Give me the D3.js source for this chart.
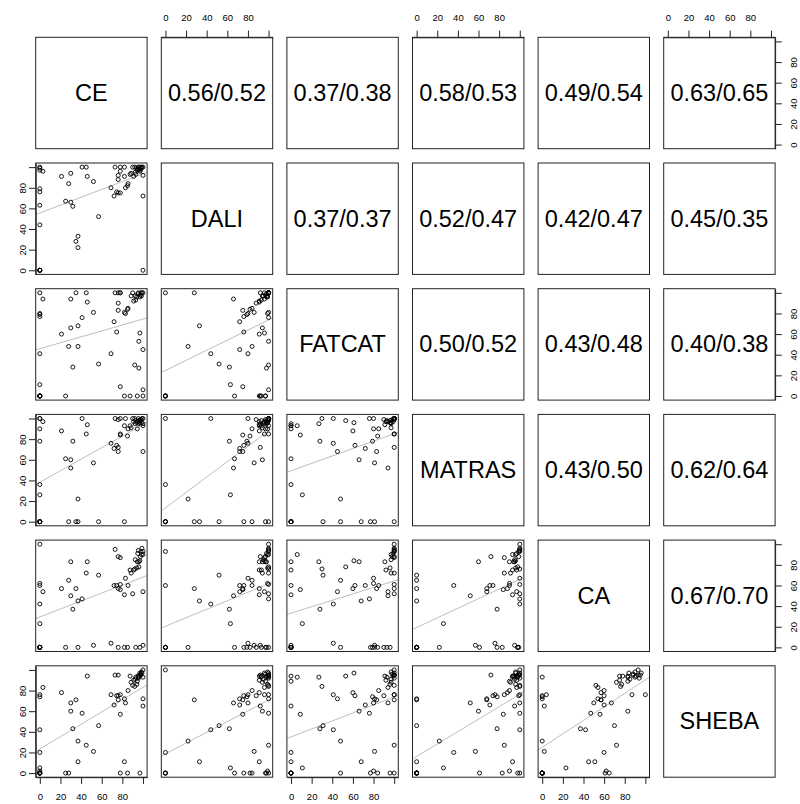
<!DOCTYPE html>
<html>
<head>
  <meta charset="utf8" />
  <style>
    body {
      margin: 0;
      background: #fff;
    }
    text {
      font-family: "Liberation Sans", Arial, Helvetica, sans-serif;
      fill: #000;
    }
    .box {
      fill: none;
      stroke: #222;
      stroke-width: 1;
    }
    .pt {
      fill: none;
      stroke: #000;
      stroke-width: 0.9;
    }
    .fit {
      stroke: #bebebe;
      stroke-width: 1;
    }
    .axis path, .axis line {
      stroke: #222;
    }
    .axis text {
      font-size: 9.5px;
    }
    .big {
      font-size: 23.5px;
      text-anchor: middle;
      dominant-baseline: central;
    }
  </style>
</head>
<body>
  <script src="https://d3js.org/d3.v7.min.js"></script>
  <script>
    // variables of the pairs plot, one value per structure pair
    var names = ["CE", "DALI", "FATCAT", "MATRAS", "CA", "SHEBA"];

    var ce     = [0, 0, 0, 0, 0, 0, 0, 0, 0, 0, 0, 3,
                  21, 25, 28, 30, 30, 32, 35, 37, 37, 41, 45, 46, 52, 57,
                  69, 72, 73, 74.5, 76, 76, 76, 78, 78, 78, 82, 82, 83, 85, 85.5, 87.5, 88.5,
                  90, 91, 92, 92.5, 93, 94, 94.5, 95, 95.5, 96, 96, 97, 97, 97.5, 98, 98.5, 99, 100, 100, 100, 100];
    var dali   = [100, 99, 79, 76, 63, 44, 0, 0, 0, 0, 97, 96,
                  91, 67, 84, 66, 94, 62, 28, 33, 22, 100, 100, 91, 86, 52,
                  80, 72, 100, 76, 75, 92, 88, 75, 100, 96, 100, 91, 80, 82, 84, 93, 94,
                  100, 91, 100, 95, 93, 99, 97, 98, 100, 98, 100, 96, 98, 97, 100, 99, 100, 0, 100, 92, 72];
    var fatcat = [100, 80, 79, 77, 11, 41, 0, 0, 0, 0, 0, 94,
                  60, 0, 48, 94, 66, 28, 100, 68, 48, 76, 100, 91, 81, 31,
                  41, 72, 100, 62, 83, 100, 90, 9, 100, 100, 81, 0, 80, 84, 85, 0, 97,
                  100, 92, 30, 97, 93, 96, 0, 99, 100, 27, 53, 61, 96, 98, 100, 97, 100, 100, 6, 0, 45];
    var matras = [100, 90, 78, 0, 26, 100, 36, 0, 0, 0, 0, 97,
                  88, 61, 0, 52, 60, 78, 0, 0, 22, 100, 85, 94, 57, 0,
                  76, 71, 100, 74, 68, 72, 99, 84, 100, 85, 0, 93, 100, 83, 90, 93, 91,
                  100, 97, 100, 95, 98, 96, 90, 97, 100, 95, 98, 96, 98, 99, 99, 96, 100, 100, 93, 95, 68];
    var ca     = [100, 62, 0, 0, 23, 42, 60, 0, 0, 0, 0, 54,
                  57, 0, 65, 50, 83, 37, 57, 45, 0, 47, 72, 83, 2, 70,
                  4, 60, 95, 60, 57, 88, 0, 56, 61, 87, 0, 51, 67, 0, 60, 75, 72,
                  52, 75, 76, 85, 0, 77, 83, 91, 94, 83, 78, 84, 0, 88, 93, 90, 96, 93, 90, 2, 54];
    var sheba  = [76, 2, 74, 0, 5, 42, 20, 0, 0, 0, 0, 83,
                  78, 0, 0, 68, 60, 43, 71, 11, 31, 58, 27, 94, 21, 46,
                  76, 66, 95, 75, 71, 95, 75, 57, 0, 76, 72, 11, 68, 0, 80, 94, 88,
                  85, 90, 84, 91, 93, 86, 89, 94, 92, 93, 94, 97, 0, 96, 95, 98, 97, 100, 93, 65, 72];

    // correlation labels of the upper panels, by row
    var corrCE     = ["0.56/0.52", "0.37/0.38", "0.58/0.53", "0.49/0.54", "0.63/0.65"];
    var corrDALI   = ["0.37/0.37", "0.52/0.47", "0.42/0.47", "0.45/0.35"];
    var corrFATCAT = ["0.50/0.52", "0.43/0.48", "0.40/0.38"];
    var corrMATRAS = ["0.43/0.50", "0.62/0.64"];
    var corrCA     = ["0.67/0.70"];

    var tickValues = [0, 20, 40, 60, 80, 100];

    var vars = [ce, dali, fatcat, matras, ca, sheba],
        corr = [corrCE, corrDALI, corrFATCAT, corrMATRAS, corrCA, []];

    var width = 800,
        height = 804,
        originX = 35.7,
        originY = 37.3,
        size = 111.4,
        stepX = 125.6,
        stepY = 125.7,
        tickLen = 6.7;

    var x = d3.scaleLinear().domain([-4, 104]).range([0, size]);
    var y = d3.scaleLinear().domain([-4, 104]).range([size, 0]);

    var svg = d3.select("body").append("svg")
        .attr("width", width)
        .attr("height", height);

    svg.append("defs").append("clipPath")
        .attr("id", "panel-clip")
      .append("rect")
        .attr("width", size)
        .attr("height", size);

    function fit(xs, ys) {
      var mx = d3.mean(xs), my = d3.mean(ys), sxy = 0, sxx = 0;
      xs.forEach(function (v, k) {
        sxy += (v - mx) * (ys[k] - my);
        sxx += (v - mx) * (v - mx);
      });
      var b = sxy / sxx;
      return { a: my - b * mx, b: b };
    }

    var fmt = function (d) { return d === 100 ? "" : d; };

    for (var i = 0; i < names.length; i++) {
      for (var j = 0; j < names.length; j++) {
        var g = svg.append("g")
            .attr("transform", "translate(" + (originX + j * stepX) + "," + (originY + i * stepY) + ")");

        if (i === j) {
          g.append("text").attr("class", "big")
              .attr("x", size / 2).attr("y", size / 2)
              .text(names[i]);
        } else if (i < j) {
          g.append("text").attr("class", "big")
              .attr("x", size / 2).attr("y", size / 2)
              .text(corr[i][j - i - 1]);
        } else {
          var xs = vars[j], ys = vars[i];
          var lm = fit(xs, ys);
          var dom = x.domain();

          g.append("line").attr("class", "fit")
              .attr("clip-path", "url(#panel-clip)")
              .attr("x1", x(dom[0])).attr("y1", y(lm.a + lm.b * dom[0]))
              .attr("x2", x(dom[1])).attr("y2", y(lm.a + lm.b * dom[1]));

          g.selectAll("circle")
              .data(xs.map(function (v, k) { return [v, ys[k]]; }))
            .enter().append("circle")
              .attr("class", "pt")
              .attr("r", 2)
              .attr("cx", function (d) { return x(d[0]); })
              .attr("cy", function (d) { return y(d[1]); });
        }

        g.append("rect").attr("class", "box")
            .attr("width", size)
            .attr("height", size);

        // axes alternate sides, as in R's pairs()
        if (i === 0 && j % 2 === 1) {
          g.append("g").attr("class", "axis")
              .call(d3.axisTop(x).tickValues(tickValues).tickSize(tickLen).tickSizeOuter(0).tickFormat(fmt))
            .selectAll(".tick text")
              .attr("y", -20).attr("dy", "0.35em");
        }
        if (i === names.length - 1 && j % 2 === 0) {
          g.append("g").attr("class", "axis")
              .attr("transform", "translate(0," + size + ")")
              .call(d3.axisBottom(x).tickValues(tickValues).tickSize(tickLen).tickSizeOuter(0).tickFormat(fmt))
            .selectAll(".tick text")
              .attr("y", 19.5).attr("dy", "0.35em");
        }
        if (j === 0 && i % 2 === 1) {
          g.append("g").attr("class", "axis")
              .call(d3.axisLeft(y).tickValues(tickValues).tickSize(tickLen).tickSizeOuter(0).tickFormat(fmt))
            .selectAll(".tick text")
              .attr("transform", "rotate(-90)")
              .attr("text-anchor", "middle")
              .attr("x", 0).attr("y", -13.2).attr("dy", "0.35em");
        }
        if (j === names.length - 1 && i % 2 === 0) {
          g.append("g").attr("class", "axis")
              .attr("transform", "translate(" + size + ",0)")
              .call(d3.axisRight(y).tickValues(tickValues).tickSize(tickLen).tickSizeOuter(0).tickFormat(fmt))
            .selectAll(".tick text")
              .attr("transform", "rotate(-90)")
              .attr("text-anchor", "middle")
              .attr("x", 0).attr("y", 19).attr("dy", "0.35em");
        }
      }
    }
  </script>
</body>
</html>
